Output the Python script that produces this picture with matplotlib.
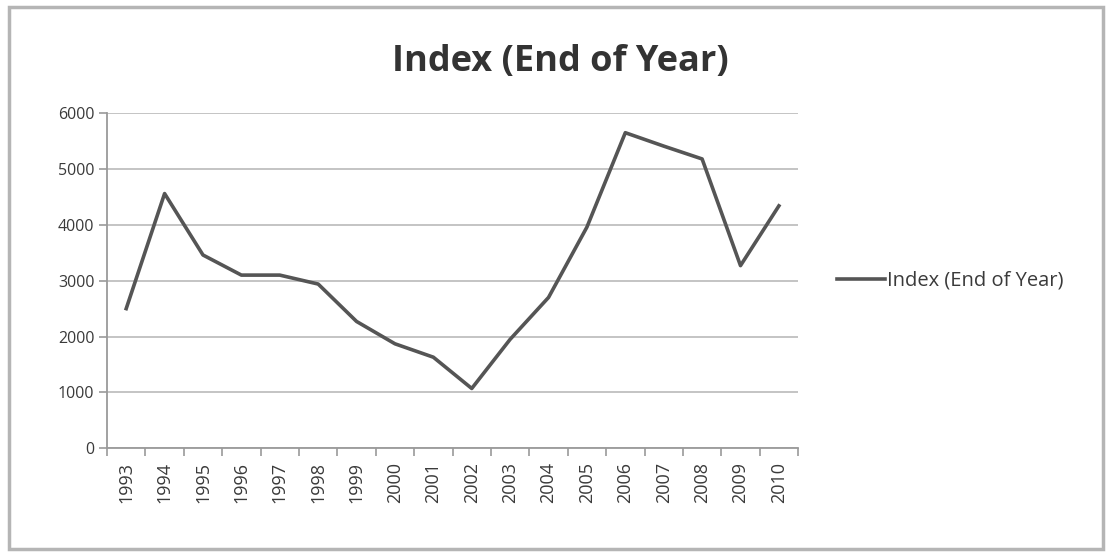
import matplotlib.pyplot as plt
import numpy as np
from matplotlib.patches import Rectangle

years = ['1993', '1994', '1995', '1996', '1997', '1998', '1999', '2000', '2001',
         '2002', '2003', '2004', '2005', '2006', '2007', '2008', '2009', '2010']
index_eoy = [2500, 4560, 3460, 3100, 3100, 2940, 2270, 1870, 1630,
             1070, 1950, 2700, 3960, 5650, 5410, 5180, 3270, 4340]
yticks = [0, 1000, 2000, 3000, 4000, 5000, 6000]

plt.rcParams['font.family'] = ['Open Sans', 'DejaVu Sans']

fig = plt.figure(figsize=(11.1, 5.52), dpi=100)
fig.patch.set_facecolor('white')
# chart frame
fig.patches.append(Rectangle((0.008, 0.006), 0.986, 0.982, transform=fig.transFigure,
                             fill=False, edgecolor='#b5b5b5', linewidth=2.5))

ax = fig.add_axes([0.0964, 0.188, 0.6226, 0.607])
x = np.arange(len(years))
ax.plot(x, index_eoy, color='#555555', linewidth=2.6, label='Index (End of Year)')

ax.set_xlim(-0.5, len(years) - 0.5)
ax.set_ylim(0, 6000)
ax.set_yticks(yticks)
ax.set_yticklabels([str(v) for v in yticks], fontsize=11.5, color='#3a3a3a')
ax.yaxis.grid(True, color='#c4c4c4', linewidth=1.4)
ax.set_axisbelow(True)

# category labels centred, ticks at the boundaries
ax.set_xticks(x)
ax.set_xticklabels(years, rotation=90, fontsize=13, color='#3a3a3a')
ax.set_xticks(np.arange(-0.5, len(years), 1.0), minor=True)
ax.tick_params(axis='x', which='major', length=0, pad=10)
ax.tick_params(axis='x', which='minor', length=6, color='#9a9a9a', width=1.2)
ax.tick_params(axis='y', length=6, color='#9a9a9a', width=1.2, pad=3)

for side in ['top', 'right']:
    ax.spines[side].set_visible(False)
for side in ['left', 'bottom']:
    ax.spines[side].set_color('#9a9a9a')
    ax.spines[side].set_linewidth(1.3)

fig.text(0.505, 0.887, 'Index (End of Year)', ha='center', va='center',
         fontsize=26, fontweight='bold', color='#333333')

ax.legend(loc='center left', bbox_to_anchor=(1.03, 0.5), frameon=False,
          fontsize=14.5, handlelength=2.4, handletextpad=0.1, labelcolor='#3a3a3a')

fig.savefig('out.png', dpi=100, facecolor='white')
